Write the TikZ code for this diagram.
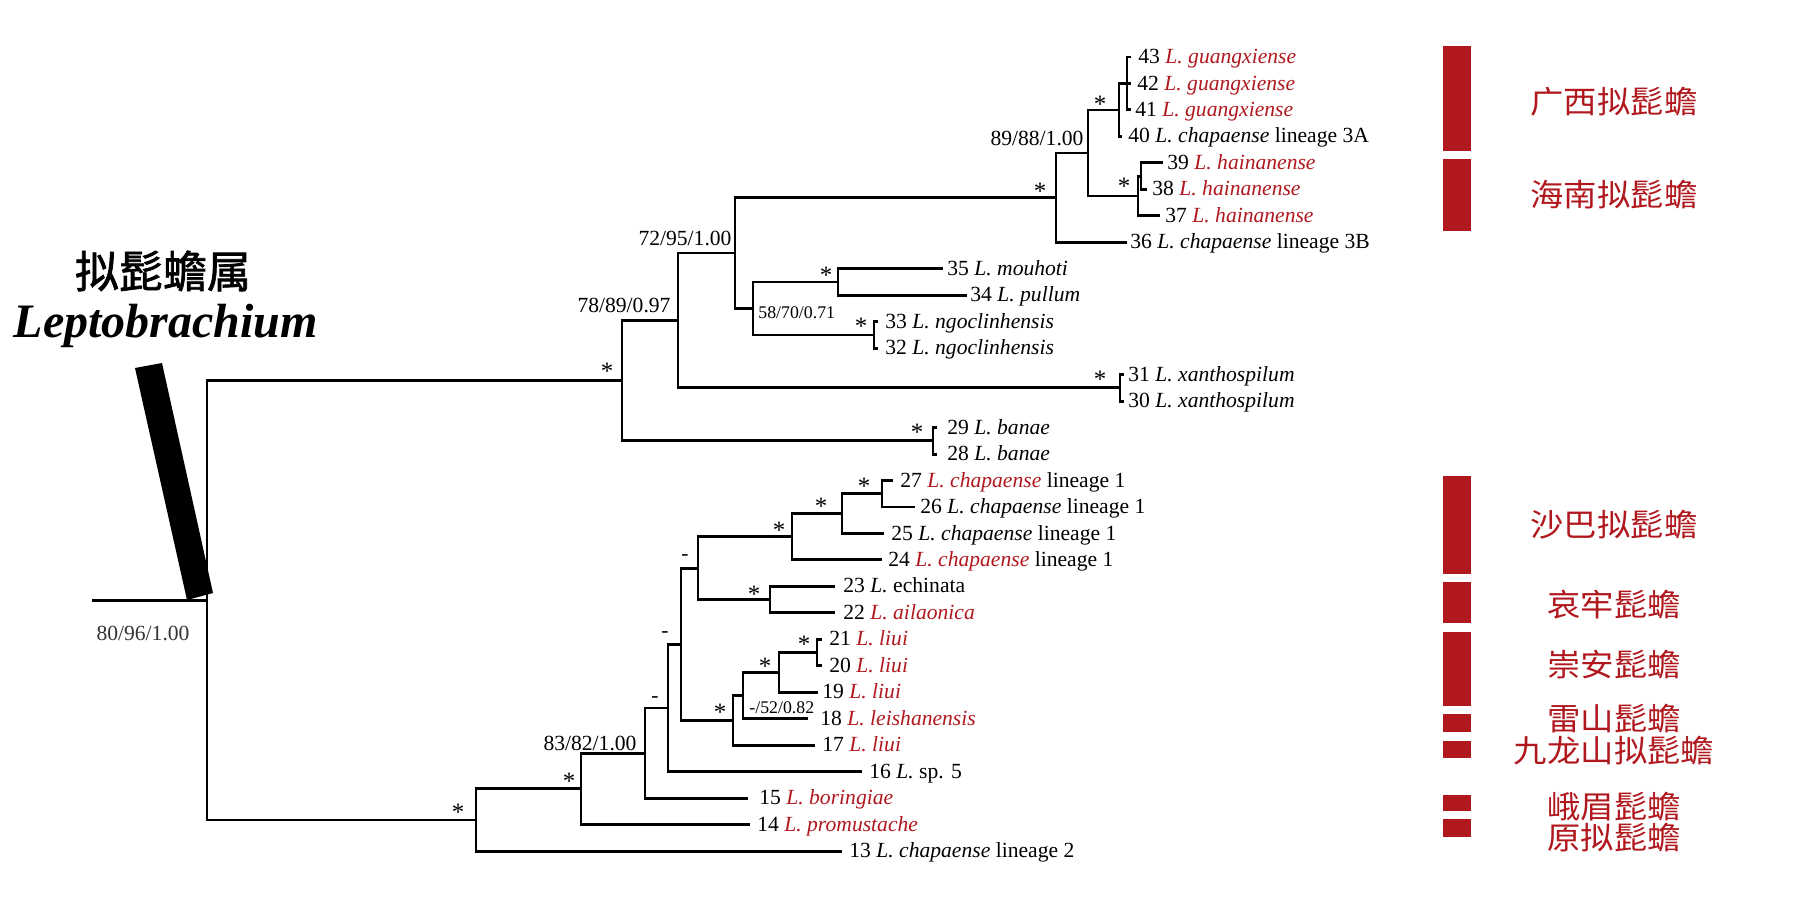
\documentclass[tikz,border=0pt]{standalone}
\usepackage{fontspec}
\setmainfont{Liberation Serif}
\newfontfamily\cjk[FakeStretch=1.07]{Noto Sans CJK SC}
\newfontfamily\cjkt[FakeBold=1.6]{Noto Sans CJK SC}
\definecolor{tred}{RGB}{176,24,30}
\newcommand{\rsp}[1]{\textcolor{tred}{\textit{L. #1}}}
\newcommand{\bsp}[1]{\textit{L. #1}}
\begin{document}
\begin{tikzpicture}[x=0.5pt,y=-0.5pt,
  br/.style={line width=1.45pt, line join=miter},
  tip/.style={anchor=west, inner sep=0pt, font=\fontsize{10.8}{12}\selectfont, text height=7.5pt, text depth=1pt},
  sup/.style={inner sep=0pt, font=\fontsize{10.8}{12}\selectfont},
  sml/.style={inner sep=0pt, anchor=west, font=\fontsize{8.9}{10}\selectfont},
  starmark/.style={inner sep=0pt, anchor=base, font=\fontsize{12.5}{13}\selectfont},
  dashmark/.style={inner sep=0pt, anchor=base, font=\fontsize{10.8}{12}\selectfont},
  bar/.style={fill=tred, draw=none},
  cn/.style={inner sep=0pt, text=tred, font=\cjk\fontsize{15.6}{17}\selectfont}]
\useasboundingbox (0,0) rectangle (1800,905);

% ---------- tip line ends ----------
\coordinate (e43) at (1131,57);
\coordinate (e42) at (1131,83.5);
\coordinate (e41) at (1131,109.9);
\coordinate (e40) at (1122,136.4);
\coordinate (e39) at (1163,162.9);
\coordinate (e38) at (1147,189.4);
\coordinate (e37) at (1160,215.8);
\coordinate (e36) at (1127,242.3);
\coordinate (e35) at (943,268.8);
\coordinate (e34) at (967,295.2);
\coordinate (e33) at (878,321.7);
\coordinate (e32) at (878,348.2);
\coordinate (e31) at (1124,374.6);
\coordinate (e30) at (1124,401.1);
\coordinate (e29) at (937,427.6);
\coordinate (e28) at (937,454.1);
\coordinate (e27) at (893,480.5);
\coordinate (e26) at (915,507);
\coordinate (e25) at (884,533.5);
\coordinate (e24) at (882,559.9);
\coordinate (e23) at (835,586.4);
\coordinate (e22) at (835,612.9);
\coordinate (e21) at (822,639.3);
\coordinate (e20) at (822,665.8);
\coordinate (e19) at (818,692.3);
\coordinate (e18) at (808,718.8);
\coordinate (e17) at (815,745.2);
\coordinate (e16) at (862,771.7);
\coordinate (e15) at (748,798.2);
\coordinate (e14) at (750,824.6);
\coordinate (e13) at (842,851.1);

% ---------- internal nodes ----------
\coordinate (g3) at (1127,83.5);
\coordinate (g4) at (1119,110);
\coordinate (h2) at (1141,176.2);
\coordinate (h1) at (1138,196);
\coordinate (n89) at (1088,153);
\coordinate (n36) at (1056,197.7);
\coordinate (m) at (838,282);
\coordinate (ng) at (874,335);
\coordinate (n58) at (753,308.5);
\coordinate (n72) at (735,253);
\coordinate (xa) at (1120,387.9);
\coordinate (n78) at (678,320.5);
\coordinate (ba) at (933,440.9);
\coordinate (ns) at (622,380.7);
\coordinate (c27) at (882,493.8);
\coordinate (c25) at (842,513.6);
\coordinate (c24) at (792,536.8);
\coordinate (ce) at (770,599.6);
\coordinate (na) at (698,568.2);
\coordinate (l21) at (817,652.6);
\coordinate (l19) at (779,672.4);
\coordinate (l18) at (743,695.6);
\coordinate (l17) at (733,720.4);
\coordinate (nb) at (681,644.3);
\coordinate (nc) at (668,708);
\coordinate (nd) at (645,753.1);
\coordinate (ne) at (581,788.9);
\coordinate (nf) at (476,820);
\coordinate (root) at (207,600.4);
\coordinate (stem) at (92,600.4);

% ---------- branches ----------
\foreach \p/\c in {g3/e43,g3/e42,g3/e41,g4/g3,g4/e40,h2/e39,h2/e38,h1/h2,h1/e37,
  n89/g4,n89/h1,n36/n89,n36/e36,m/e35,m/e34,ng/e33,ng/e32,n58/m,n58/ng,
  n72/n36,n72/n58,xa/e31,xa/e30,n78/n72,n78/xa,ba/e29,ba/e28,ns/n78,ns/ba,
  c27/e27,c27/e26,c25/c27,c25/e25,c24/c25,c24/e24,ce/e23,ce/e22,na/c24,na/ce,
  l21/e21,l21/e20,l19/l21,l19/e19,l18/l19,l18/e18,l17/l18,l17/e17,
  nb/na,nb/l17,nc/nb,nc/e16,nd/nc,nd/e15,ne/nd,ne/e14,nf/ne,nf/e13,
  root/ns,root/nf}
  \draw[br] (\p) |- (\c);
\draw[br] (stem) -- (root);

% ---------- tip labels ----------
\node[tip] (t43) at (1138,57) {43 \rsp{guangxiense}};
\node[tip] (t42) at (1137,83.5) {42 \rsp{guangxiense}};
\node[tip] (t41) at (1135,109.9) {41 \rsp{guangxiense}};
\node[tip] (t40) at (1128,136.4) {40 \bsp{chapaense} lineage 3A};
\node[tip] (t39) at (1167,162.9) {39 \rsp{hainanense}};
\node[tip] (t38) at (1152,189.4) {38 \rsp{hainanense}};
\node[tip] (t37) at (1165,215.8) {37 \rsp{hainanense}};
\node[tip] (t36) at (1130,242.3) {36 \bsp{chapaense} lineage 3B};
\node[tip] (t35) at (947,268.8) {35 \bsp{mouhoti}};
\node[tip] (t34) at (970,295.2) {34 \bsp{pullum}};
\node[tip] (t33) at (885,321.7) {33 \bsp{ngoclinhensis}};
\node[tip] (t32) at (885,348.2) {32 \bsp{ngoclinhensis}};
\node[tip] (t31) at (1128,374.6) {31 \bsp{xanthospilum}};
\node[tip] (t30) at (1128,401.1) {30 \bsp{xanthospilum}};
\node[tip] (t29) at (947,427.6) {29 \bsp{banae}};
\node[tip] (t28) at (947,454.1) {28 \bsp{banae}};
\node[tip] (t27) at (900,480.5) {27 \rsp{chapaense} lineage 1};
\node[tip] (t26) at (920,507) {26 \bsp{chapaense} lineage 1};
\node[tip] (t25) at (891,533.5) {25 \bsp{chapaense} lineage 1};
\node[tip] (t24) at (888,559.9) {24 \rsp{chapaense} lineage 1};
\node[tip] (t23) at (843,586.4) {23 \textit{L.} echinata};
\node[tip] (t22) at (843,612.9) {22 \rsp{ailaonica}};
\node[tip] (t21) at (829,639.3) {21 \rsp{liui}};
\node[tip] (t20) at (829,665.8) {20 \rsp{liui}};
\node[tip] (t19) at (822,692.3) {19 \rsp{liui}};
\node[tip] (t18) at (820,718.8) {18 \rsp{leishanensis}};
\node[tip] (t17) at (822,745.2) {17 \rsp{liui}};
\node[tip] (t16) at (869,771.7) {16 \textit{L.} sp. 5};
\node[tip] (t15) at (759,798.2) {15 \rsp{boringiae}};
\node[tip] (t14) at (757,824.6) {14 \rsp{promustache}};
\node[tip] (t13) at (849,851.1) {13 \bsp{chapaense} lineage 2};

% ---------- support values ----------
\node[sup] (s89) at (1037,138) {89/88/1.00};
\node[sup] (s72) at (685,238) {72/95/1.00};
\node[sml] (s58) at (758,313) {58/70/0.71};
\node[sup] (s78) at (624,305) {78/89/0.97};
\node[sml] (s52) at (749,708) {-/52/0.82};
\node[sup] (s83) at (590,743) {83/82/1.00};
\node[sup, text=black!80] (s80) at (143,633) {80/96/1.00};

\foreach \x/\y [count=\i] in {1040/187,1100/100,1124/182,826/271,861/322,607/367,
  1100/375,917/428,864/482,821/502,779/526,754/590,720/708,765/662,804/640,569/777,458/808}
  \node[starmark] (st\i) at (\x,\y+12) {*};
\foreach \x/\y [count=\i] in {685/555,665/632,655/697}
  \node[dashmark] (ds\i) at (\x,\y+5) {-};

% ---------- genus title and bar ----------
\node[inner sep=0pt, font=\cjkt\fontsize{22}{24}\selectfont] (gcn) at (163,271) {拟髭蟾属};
\node[inner sep=0pt, anchor=base, font=\bfseries\itshape\fontsize{24}{26}\selectfont] (glat) at (166,337) {Leptobrachium};
\fill[black] (135,368) -- (162,363) -- (213,593) -- (187,600) -- cycle;

% ---------- right bars and names ----------
\fill[bar] (1443,46) rectangle (1471,151);
\fill[bar] (1443,159) rectangle (1471,231);
\fill[bar] (1443,476) rectangle (1471,574);
\fill[bar] (1443,582) rectangle (1471,623);
\fill[bar] (1443,632) rectangle (1471,706);
\fill[bar] (1443,714) rectangle (1471,732);
\fill[bar] (1443,741) rectangle (1471,758);
\fill[bar] (1443,795) rectangle (1471,811);
\fill[bar] (1443,819) rectangle (1471,837);

\node[cn] (c1) at (1614,102) {广西拟髭蟾};
\node[cn] (c2) at (1614,195) {海南拟髭蟾};
\node[cn] (c3) at (1614,525) {沙巴拟髭蟾};
\node[cn] (c4) at (1614,605) {哀牢髭蟾};
\node[cn] (c5) at (1614,665) {崇安髭蟾};
\node[cn] (c6) at (1614,719) {雷山髭蟾};
\node[cn] (c7) at (1614,751) {九龙山拟髭蟾};
\node[cn] (c8) at (1614,807) {峨眉髭蟾};
\node[cn] (c9) at (1614,838) {原拟髭蟾};
\end{tikzpicture}
\end{document}
